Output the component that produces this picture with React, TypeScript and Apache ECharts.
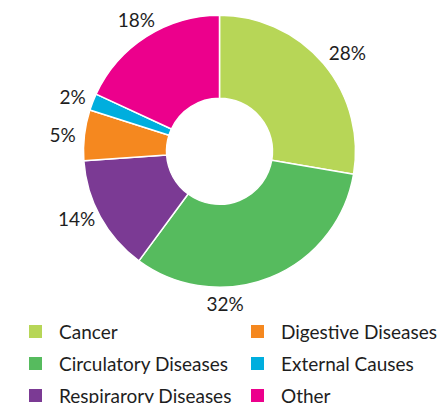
import React, { useEffect, useRef } from "react";
import * as echarts from "echarts";

const categories = ["Cancer", "Circulatory Diseases", "Respirarory Diseases", "Digestive Diseases", "External Causes", "Other"];
const values = [27.7, 32.4, 13.8, 6.0, 2.0, 18.1];
const percentLabels = ["28%", "32%", "14%", "5%", "2%", "18%"];
const colors = ["#b7d657", "#56bb5e", "#7b3a94", "#f5881f", "#00aede", "#ec008c"];
const leftLegend = ["Cancer", "Circulatory Diseases", "Respirarory Diseases"];
const rightLegend = ["Digestive Diseases", "External Causes", "Other"];

const FONT = "Lato";
const labelNudge = [
  { dx: 4, dy: 6 },
  { dx: -55, dy: 2 },
  { dx: -1, dy: -11 },
  { dx: 4, dy: 2 },
  { dx: 4, dy: 4 },
  { dx: 4, dy: 5 },
];

export default function App() {
  const ref = useRef<HTMLDivElement>(null);
  useEffect(() => {
    if (!ref.current) return;
    const chart = echarts.init(ref.current, undefined, { renderer: "svg" });
    const data = categories.map((name, i) => ({
      name,
      value: values[i],
      itemStyle: { color: colors[i] },
    }));
    const legendCommon = {
      orient: "vertical" as const,
      top: 322,
      height: 200,
      width: 200,
      padding: 0,
      itemWidth: 15,
      itemHeight: 15,
      itemGap: 13,
      icon: "rect",
      selectedMode: false,
      textStyle: {
        fontFamily: FONT,
        fontSize: 19,
        color: "#1e1e1e",
        lineHeight: 15,
        padding: [0, 0, 0, 11],
      },
    };
    chart.setOption({
      animation: false,
      color: colors,
      legend: [
        { ...legendCommon, left: 27, data: leftLegend },
        { ...legendCommon, left: 249, data: rightLegend },
      ],
      series: [
        {
          type: "pie",
          center: [219.5, 151.3],
          radius: [53, 136],
          startAngle: 90,
          clockwise: true,
          silent: true,
          label: { show: false },
          labelLine: { show: false },
          itemStyle: { borderColor: "#ffffff", borderWidth: 1.5 },
          data,
        },
        {
          type: "pie",
          center: [219.5, 151.3],
          radius: [152, 166],
          startAngle: 90,
          clockwise: true,
          silent: true,
          legendHoverLink: false,
          itemStyle: { color: "rgba(0,0,0,0)", borderWidth: 0 },
          label: {
            show: true,
            position: "inside",
            fontFamily: FONT,
            fontSize: 19,
            color: "#1e1e1e",
            formatter: (p: any) => percentLabels[p.dataIndex],
          },
          labelLine: { show: false },
          labelLayout: (p: any) => labelNudge[p.dataIndex],
          data: data.map((d) => ({ name: d.name, value: d.value, itemStyle: { color: "rgba(0,0,0,0)" } })),
        },
      ],
    });
    return () => chart.dispose();
  }, []);
  return (
    <div
      ref={ref}
      style={{ position: "fixed", left: 0, top: 0, width: 437, height: 403, background: "#ffffff" }}
    />
  );
}
